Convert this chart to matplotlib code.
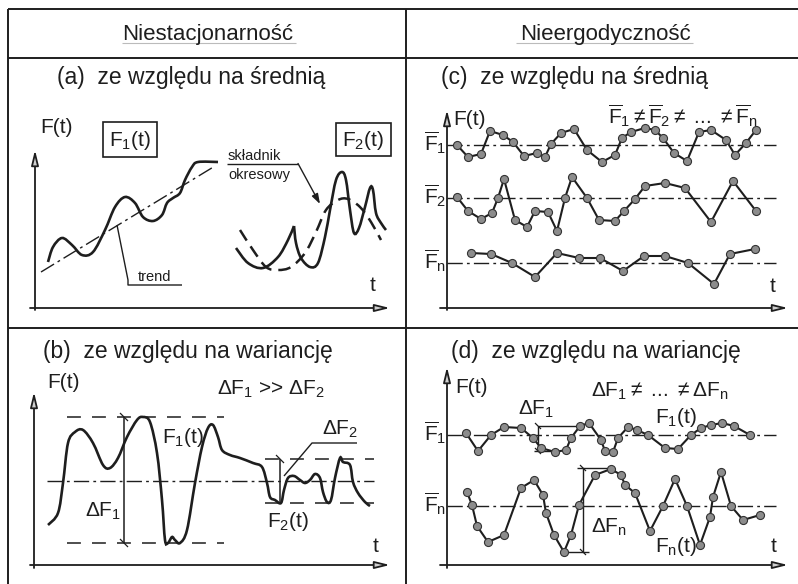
import numpy as np
import matplotlib
matplotlib.use("Agg")
import matplotlib.pyplot as plt
from matplotlib.path import Path
from matplotlib.patches import PathPatch, Rectangle

plt.rcParams['font.family'] = ['Liberation Sans', 'DejaVu Sans']
plt.rcParams['mathtext.fontset'] = 'custom'
plt.rcParams['mathtext.rm'] = 'Liberation Sans'
plt.rcParams['mathtext.it'] = 'Liberation Sans'
plt.rcParams['mathtext.bf'] = 'Liberation Sans:bold'
plt.rcParams['lines.scale_dashes'] = False

# ---------------- data (figure pixel units) ----------------
# panel (a): non-stationary in mean
a_f1_t = [48, 53, 62, 72, 82, 93, 105, 115, 125, 135, 143, 153, 162, 167, 173, 180, 185, 192, 198, 218]
a_f1_v = [262, 247, 238, 245, 255, 252, 230, 207, 197, 203, 217, 221, 215, 203, 198, 193, 180, 167, 162, 162]
a_trend_t = [41, 215]
a_trend_v = [272, 166]
a_f2_t1 = [236, 248, 263, 278, 288, 294]
a_f2_v1 = [248, 263, 268, 257, 240, 226]
a_f2_t2 = [294, 296, 301, 310, 318, 325, 330, 336, 342, 346, 350, 354, 359, 365, 370, 373, 376, 381, 386]
a_f2_v2 = [226, 243, 258, 267, 263, 237, 210, 180, 172, 180, 210, 233, 228, 207, 188, 190, 213, 223, 230]
a_per_t = [240, 253, 266, 278, 291, 305, 316, 326, 338, 348, 360, 371, 381]
a_per_v = [230, 250, 267, 270, 267, 253, 232, 210, 200, 199, 207, 222, 240]

# panel (b): non-stationary in variance
b_f_t = [48, 58, 63, 68, 75, 83, 93, 103, 110, 118, 127, 137, 143, 150, 157, 162, 165, 168, 172, 175, 180,
         187, 195, 202, 208, 213, 218, 222, 230, 240, 253, 262, 267, 270, 275, 281,
         284, 288, 294, 300, 305, 310, 315, 320, 323, 327, 331, 335, 340, 343, 350, 353, 358, 365, 370]
b_f_v = [525, 513, 483, 443, 432, 430, 443, 465, 468, 458, 437, 420, 417, 422, 453, 500, 540, 543, 537, 540, 543,
         530, 483, 447, 428, 425, 437, 450, 455, 458, 463, 467, 483, 497, 500, 503,
         490, 478, 476, 480, 483, 480, 474, 478, 492, 502, 500, 478, 458, 462, 465, 482, 493, 502, 506]
b_mean = 481
b_f1_hi, b_f1_lo = 417, 543
b_f2_hi, b_f2_lo = 459, 503

# panel (c): non-ergodic in mean
c1_t = [457, 468, 481, 490, 503, 513, 524, 537, 545, 551, 561, 574, 587, 602, 615, 622, 631, 645, 655, 663,
        674, 687, 699, 711, 726, 735, 746, 756]
c1_v = [145, 157, 154, 131, 135, 142, 156, 153, 157, 144, 133, 129, 150, 162, 155, 138, 132, 128, 130, 138,
        153, 161, 132, 130, 140, 155, 143, 130]
c2_t = [457, 468, 481, 492, 498, 504, 515, 527, 535, 548, 557, 565, 572, 587, 599, 615, 624, 635, 645, 665,
        685, 711, 733, 756]
c2_v = [197, 211, 219, 213, 198, 179, 220, 227, 211, 212, 231, 198, 177, 198, 220, 221, 211, 199, 186, 183,
        188, 222, 181, 211]
cn_t = [471, 491, 512, 535, 557, 579, 600, 623, 644, 665, 688, 714, 730, 755]
cn_v = [253, 254, 263, 277, 253, 258, 258, 271, 256, 256, 263, 284, 254, 249]
c_means = [145, 198, 263]
c_mean_labels = [r'$\overline{\mathrm{F}}_1$', r'$\overline{\mathrm{F}}_2$', r'$\overline{\mathrm{F}}_\mathrm{n}$']

# panel (d): non-ergodic in variance
d1_t = [466, 478, 491, 504, 521, 533, 541, 555, 566, 571, 580, 589, 601, 605, 613, 618, 628, 637, 648, 665,
        678, 691, 701, 711, 722, 734, 750]
d1_v = [433, 451, 435, 427, 428, 438, 448, 452, 450, 438, 426, 423, 440, 451, 452, 438, 427, 430, 435, 448,
        449, 435, 428, 425, 423, 426, 435]
dn_t = [467, 472, 477, 488, 504, 521, 534, 543, 546, 554, 564, 571, 579, 595, 611, 621, 625, 635, 650, 663,
        675, 687, 700, 710, 713, 721, 731, 743, 760]
dn_v = [492, 505, 526, 542, 535, 488, 480, 495, 513, 535, 552, 535, 505, 475, 469, 475, 485, 493, 531, 506,
        479, 506, 545, 517, 497, 472, 506, 520, 515]
d_means = [435, 506]

INK = '#1e1e1e'
MK_FACE = '#8c8c8c'

fig = plt.figure(figsize=(7.98, 5.84), dpi=100)
ax = fig.add_axes([0, 0, 1, 1])
ax.set_xlim(0, 798)
ax.set_ylim(584, 0)
ax.axis('off')


def smooth(t, v, **kw):
    p = np.column_stack([t, v]).astype(float)
    n = len(p)
    verts = [p[0]]
    codes = [Path.MOVETO]
    for i in range(n - 1):
        p0 = p[i - 1] if i > 0 else p[i]
        p1, p2 = p[i], p[i + 1]
        p3 = p[i + 2] if i + 2 < n else p[i + 1]
        c1 = p1 + (p2 - p0) / 6.0
        c2 = p2 - (p3 - p1) / 6.0
        verts += [c1, c2, p2]
        codes += [Path.CURVE4] * 3
    ax.add_patch(PathPatch(Path(verts, codes), fill=False, **kw))


def line(x, y, **kw):
    kw.setdefault('color', INK)
    kw.setdefault('lw', 1.1)
    ax.plot(x, y, solid_capstyle='butt', **kw)


def arrow(x0, y0, x1, y1):
    ax.annotate('', xy=(x1, y1), xytext=(x0, y0),
                arrowprops=dict(arrowstyle='-|>,head_length=0.9,head_width=0.22',
                                lw=1.3, color=INK, fc='#d0d0d0', shrinkA=0, shrinkB=0))


def cross(x, y, s=4):
    line([x - s, x + s], [y - s, y + s], lw=0.9)


def txt(x, y, s, size=15, **kw):
    ax.text(x, y, s, fontsize=size, color=INK, va='baseline', **kw)


DASHDOT = (0, (11, 3, 2, 3))
DASHED = (0, (10, 8))

# ---------------- frame ----------------
line([8, 798], [9, 9], lw=1.4)
line([8, 798], [58, 58], lw=1.4)
line([8, 798], [328, 328], lw=1.4)
line([8, 8], [9, 584], lw=1.4)
line([406, 406], [9, 584], lw=1.4)
line([122, 296], [43, 43], color='#bbbbbb', lw=0.8)
line([516, 693], [43, 43], color='#bbbbbb', lw=0.8)
txt(208, 40, 'Niestacjonarność', size=16, ha='center')
txt(606, 40, 'Nieergodyczność', size=16, ha='center')

# ---------------- panel (a) ----------------
txt(57, 84, '(a)  ze względu na średnią', size=16.5)
arrow(35, 310, 35, 150)
arrow(30, 308, 390, 308)
txt(40, 133, 'F(t)', size=15)
txt(370, 291, 't', size=15)
ax.add_patch(Rectangle((103, 122), 54, 35, fill=False, ec=INK, lw=1.2))
txt(130, 146, r'$\mathrm{F_1(t)}$', size=15, ha='center')
ax.add_patch(Rectangle((336, 123), 55, 33, fill=False, ec=INK, lw=1.2))
txt(363, 146, r'$\mathrm{F_2(t)}$', size=15, ha='center')
line(a_trend_t, a_trend_v, lw=1.0, ls=DASHDOT)
smooth(a_f1_t, a_f1_v, ec=INK, lw=1.9)
smooth(a_f2_t1, a_f2_v1, ec=INK, lw=1.9)
smooth(a_f2_t2, a_f2_v2, ec=INK, lw=1.9)
smooth(a_per_t, a_per_v, ec=INK, lw=1.8, ls=(0, (9, 5)))
line([117, 128, 128, 182], [225, 280, 285, 285], lw=1.0)
txt(138, 281, 'trend', size=10.5)
txt(228, 160, 'składnik', size=10.5)
txt(228, 179, 'okresowy', size=10.5)
line([227, 298], [163.5, 163.5], lw=1.0)
ax.annotate('', xy=(320, 204), xytext=(298, 163.5),
            arrowprops=dict(arrowstyle='-|>,head_length=0.6,head_width=0.2', lw=1.0,
                            color=INK, shrinkA=0, shrinkB=0))

# ---------------- panel (b) ----------------
txt(43, 358, '(b)  ze względu na wariancję', size=16.5)
arrow(34, 568, 34, 392)
arrow(30, 565, 390, 565)
txt(47, 388, 'F(t)', size=15)
txt(373, 552, 't', size=15)
txt(217, 395, r'$\Delta\mathrm{F_1}$ >> $\Delta\mathrm{F_2}$', size=15)
line([67, 224], [b_f1_hi, b_f1_hi], lw=1.1, ls=DASHED)
line([67, 224], [b_f1_lo, b_f1_lo], lw=1.1, ls=DASHED)
line([47, 374], [b_mean, b_mean], lw=1.0, ls=DASHDOT)
line([265, 374], [b_f2_hi, b_f2_hi], lw=1.1, ls=DASHED)
line([265, 374], [b_f2_lo, b_f2_lo], lw=1.1, ls=DASHED)
line([124, 124], [b_f1_hi, b_f1_lo], lw=1.1)
cross(124, b_f1_hi)
cross(124, b_f1_lo)
line([280, 280], [b_f2_hi, b_f2_lo], lw=1.1)
cross(280, b_f2_hi)
smooth(b_f_t, b_f_v, ec=INK, lw=1.9)
line([357, 312, 284], [443, 443, 476], lw=1.0)
txt(85, 517, r'$\Delta\mathrm{F_1}$', size=15)
txt(162, 443, r'$\mathrm{F_1(t)}$', size=15)
txt(322, 435, r'$\Delta\mathrm{F_2}$', size=15)
txt(267, 527, r'$\mathrm{F_2(t)}$', size=15)

# ---------------- panel (c) ----------------
txt(441, 84, '(c)  ze względu na średnią', size=16.5)
arrow(447, 310, 447, 110)
arrow(440, 308, 788, 308)
txt(453, 125, 'F(t)', size=15)
txt(770, 292, 't', size=15)
txt(608, 124, r'$\overline{\mathrm{F}}_1 \neq \overline{\mathrm{F}}_2 \neq$ ... $\neq \overline{\mathrm{F}}_\mathrm{n}$', size=15)
for m, lab in zip(c_means, c_mean_labels):
    line([447, 776], [m, m], lw=1.0, ls=DASHDOT)
    txt(424, m + 6, lab, size=15)
for t, v in [(c1_t, c1_v), (c2_t, c2_v), (cn_t, cn_v)]:
    ax.plot(t, v, '-o', color=INK, lw=1.5, ms=5.8, mfc=MK_FACE, mec='#333333', mew=0.8)

# ---------------- panel (d) ----------------
txt(451, 358, '(d)  ze względu na wariancję', size=16.5)
arrow(447, 568, 447, 367)
arrow(440, 565, 788, 565)
txt(455, 393, 'F(t)', size=15)
txt(771, 552, 't', size=15)
txt(591, 397, r'$\Delta\mathrm{F_1} \neq$ ... $\neq \Delta\mathrm{F_n}$', size=15)
for m, lab in zip(d_means, [c_mean_labels[0], c_mean_labels[2]]):
    line([447, 776], [m, m], lw=1.0, ls=DASHDOT)
    txt(424, m + 6, lab, size=15)
line([538, 538], [426, 451], lw=1.0)
line([538, 580], [426, 426], lw=1.0)
line([534, 556], [451, 451], lw=1.0)
cross(538, 426, 3)
cross(538, 451, 3)
line([583, 583], [468, 552], lw=1.0)
line([577, 611], [468, 468], lw=1.0)
line([563, 589], [552, 552], lw=1.0)
cross(583, 468, 3)
cross(583, 552, 3)
for t, v in [(d1_t, d1_v), (dn_t, dn_v)]:
    ax.plot(t, v, '-o', color=INK, lw=1.5, ms=5.8, mfc=MK_FACE, mec='#333333', mew=0.8)
txt(518, 415, r'$\Delta\mathrm{F_1}$', size=15)
txt(655, 423, r'$\mathrm{F_1(t)}$', size=15)
txt(591, 533, r'$\Delta\mathrm{F_n}$', size=15)
txt(655, 552, r'$\mathrm{F_n(t)}$', size=15)

fig.savefig('out.png', dpi=100)
